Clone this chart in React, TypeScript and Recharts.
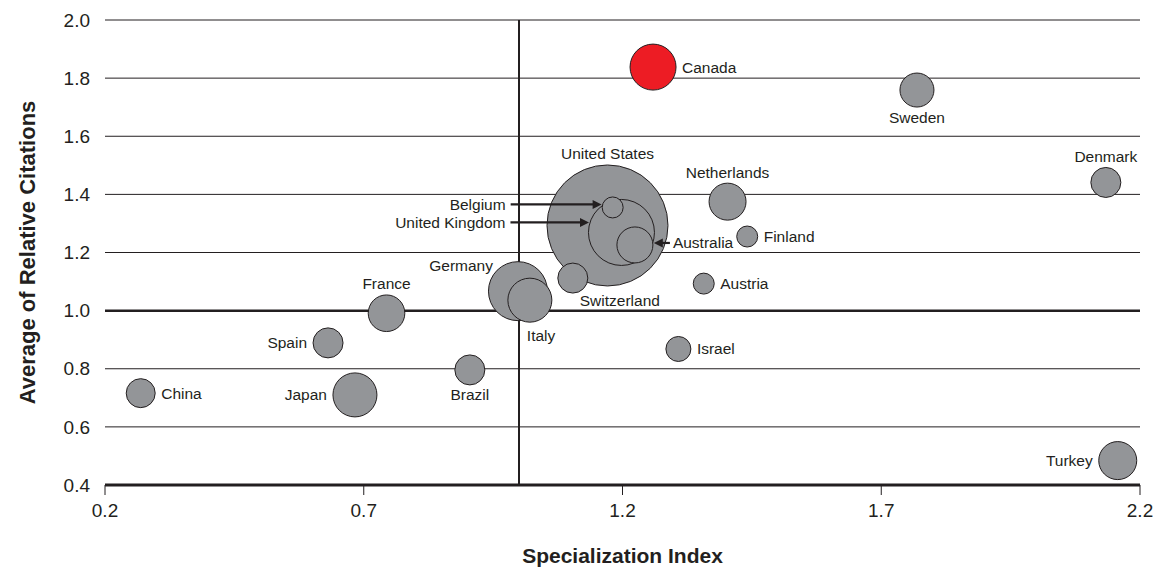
import {
  ScatterChart,
  Scatter,
  XAxis,
  YAxis,
  ZAxis,
  CartesianGrid,
  ReferenceLine,
  Cell,
  Label,
} from 'recharts'

// bubbles are listed back-to-front so the small ones sit on top of the big ones
const countries = [
  'United States', 'United Kingdom', 'Belgium', 'Australia', 'Germany', 'Italy',
  'Switzerland', 'France', 'Spain', 'China', 'Japan', 'Brazil', 'Canada',
  'Sweden', 'Denmark', 'Netherlands', 'Finland', 'Austria', 'Israel', 'Turkey',
]
const specialization = [
  1.171, 1.198, 1.181, 1.224, 0.998, 1.021,
  1.104, 0.744, 0.631, 0.269, 0.683, 0.905, 1.259,
  1.769, 2.134, 1.403, 1.441, 1.357, 1.308, 2.157,
]
const relativeCitations = [
  1.293, 1.269, 1.355, 1.226, 1.067, 1.036,
  1.112, 0.991, 0.889, 0.716, 0.710, 0.796, 1.838,
  1.759, 1.441, 1.375, 1.255, 1.093, 0.868, 0.484,
]
const output = [
  3660, 1089, 110, 324, 870, 484,
  225, 335, 225, 210, 484, 225, 529,
  289, 225, 342, 110, 110, 156, 361,
]
const highlight = 'Canada'

const xTicks = [0.2, 0.7, 1.2, 1.7, 2.2]
const yTicks = [0.4, 0.6, 0.8, 1.0, 1.2, 1.4, 1.6, 1.8, 2.0]

const points = countries.map((name, i) => ({
  name,
  x: specialization[i],
  y: relativeCitations[i],
  size: output[i],
}))

const FONT = '"Liberation Sans", Arial, Helvetica, sans-serif'
const INK = '#231f20'
const GREY = '#939598'
const RED = '#ed1c24'
const MAX_SIZE = Math.max(...output)

type Place =
  | { side: 'left' | 'right' | 'top' | 'bottom' }
  | { side: 'free'; anchor: 'start' | 'middle' | 'end'; dx: number; dy: number }
  | { side: 'arrowLeft' | 'arrowRight'; tail: number; dy: number }

const LABEL_PLACE: Record<string, Place> = {
  'United States': { side: 'top' },
  'United Kingdom': { side: 'arrowLeft', tail: 111, dy: -10 },
  Belgium: { side: 'arrowLeft', tail: 102, dy: -3 },
  Australia: { side: 'arrowRight', tail: 35, dy: -2 },
  Germany: { side: 'free', anchor: 'end', dx: -25, dy: -26 },
  Italy: { side: 'free', anchor: 'start', dx: -3, dy: 35 },
  Switzerland: { side: 'free', anchor: 'middle', dx: 47, dy: 22 },
  France: { side: 'top' },
  Spain: { side: 'left' },
  China: { side: 'right' },
  Japan: { side: 'left' },
  Brazil: { side: 'bottom' },
  Canada: { side: 'right' },
  Sweden: { side: 'bottom' },
  Denmark: { side: 'top' },
  Netherlands: { side: 'top' },
  Finland: { side: 'right' },
  Austria: { side: 'right' },
  Israel: { side: 'right' },
  Turkey: { side: 'left' },
}

function Arrow({ x1, x2, y }: { x1: number; x2: number; y: number }) {
  const dir = x2 > x1 ? 1 : -1
  return (
    <g>
      <line x1={x1} y1={y} x2={x2 - dir * 7} y2={y} stroke={INK} strokeWidth={2.2} />
      <polygon
        points={`${x2},${y} ${x2 - dir * 9},${y - 4.5} ${x2 - dir * 9},${y + 4.5}`}
        fill={INK}
      />
    </g>
  )
}

function Bubble(props: any) {
  const { cx, cy, width, fill } = props
  if (cx == null || cy == null) return null
  return <circle cx={cx} cy={cy} r={width / 2} fill={fill} stroke={INK} strokeWidth={1} />
}

function CountryLabel(props: any) {
  const { cx, cy, width, payload } = props
  if (cx == null || cy == null || !payload) return null
  const r = width / 2
  const name: string = payload.name
  const place = LABEL_PLACE[name] ?? { side: 'right' }
  const textProps = {
    fontFamily: FONT,
    fontSize: 15.5,
    fill: INK,
    dominantBaseline: 'central' as const,
  }

  switch (place.side) {
    case 'right':
      return <text x={cx + r + 6} y={cy} textAnchor="start" {...textProps}>{name}</text>
    case 'left':
      return <text x={cx - r - 6} y={cy} textAnchor="end" {...textProps}>{name}</text>
    case 'top':
      return <text x={cx} y={cy - r - 11} textAnchor="middle" {...textProps}>{name}</text>
    case 'bottom':
      return <text x={cx} y={cy + r + 10} textAnchor="middle" {...textProps}>{name}</text>
    case 'free':
      return (
        <text x={cx + place.dx} y={cy + place.dy} textAnchor={place.anchor} {...textProps}>
          {name}
        </text>
      )
    case 'arrowLeft': {
      const y = cy + place.dy
      const edge = cx - Math.sqrt(Math.max(r * r - place.dy * place.dy, 0))
      return (
        <g>
          <text x={cx - place.tail - 5} y={y} textAnchor="end" {...textProps}>{name}</text>
          <Arrow x1={cx - place.tail} x2={edge - 1} y={y} />
        </g>
      )
    }
    case 'arrowRight': {
      const y = cy + place.dy
      const edge = cx + Math.sqrt(Math.max(r * r - place.dy * place.dy, 0))
      return (
        <g>
          <text x={cx + place.tail + 3} y={y} textAnchor="start" {...textProps}>{name}</text>
          <Arrow x1={cx + place.tail} x2={edge + 1} y={y} />
        </g>
      )
    }
  }
  return null
}

export default function App() {
  return (
    <div style={{ position: 'absolute', left: 0, top: 0, width: 1160, height: 583, background: '#fff' }}>
      <ScatterChart width={1160} height={583} margin={{ top: 20, right: 20, bottom: 18, left: 30 }}>
        <CartesianGrid horizontal vertical={false} stroke={INK} strokeWidth={1} strokeOpacity={1} />
        <XAxis
          type="number"
          dataKey="x"
          domain={[0.2, 2.2]}
          ticks={xTicks}
          tickFormatter={(v: number) => v.toFixed(1)}
          tick={{ fontSize: 19, fill: INK, fontFamily: FONT }}
          axisLine={{ stroke: INK, strokeWidth: 3 }}
          tickLine={{ stroke: INK, strokeWidth: 1 }}
          tickSize={10}
          tickMargin={9}
          height={80}
          allowDataOverflow
        >
          <Label
            content={(p: any) => {
              const vb = p.viewBox ?? { x: 105, y: 485, width: 1035, height: 80 }
              return (
                <text
                  x={vb.x + vb.width / 2}
                  y={vb.y + 70}
                  textAnchor="middle"
                  dominantBaseline="central"
                  fontSize={21}
                  fontWeight={700}
                  fill={INK}
                  fontFamily={FONT}
                >
                  Specialization Index
                </text>
              )
            }}
          />
        </XAxis>
        <YAxis
          type="number"
          dataKey="y"
          domain={[0.4, 2.0]}
          ticks={yTicks}
          tickFormatter={(v: number) => v.toFixed(1)}
          tick={{ fontSize: 19, fill: INK, fontFamily: FONT }}
          axisLine={false}
          tickLine={false}
          tickSize={0}
          tickMargin={15}
          width={75}
          allowDataOverflow
        >
          <Label
            content={(p: any) => {
              const vb = p.viewBox ?? { x: 30, y: 20, width: 75, height: 465 }
              const x = vb.x - 3
              const y = vb.y + vb.height / 2
              return (
                <text
                  x={x}
                  y={y}
                  transform={`rotate(-90, ${x}, ${y})`}
                  textAnchor="middle"
                  dominantBaseline="central"
                  fontSize={22}
                  fontWeight={700}
                  fill={INK}
                  fontFamily={FONT}
                >
                  Average of Relative Citations
                </text>
              )
            }}
          />
        </YAxis>
        <ZAxis type="number" dataKey="size" domain={[0, MAX_SIZE]} range={[0, MAX_SIZE * Math.PI]} />
        <ReferenceLine y={1} stroke={INK} strokeWidth={2.5} />
        <ReferenceLine x={1} stroke={INK} strokeWidth={2} />
        <Scatter data={points} shape={Bubble} isAnimationActive={false}>
          {points.map((p) => (
            <Cell key={p.name} fill={p.name === highlight ? RED : GREY} />
          ))}
        </Scatter>
        <Scatter data={points} shape={CountryLabel} isAnimationActive={false} />
      </ScatterChart>
    </div>
  )
}
